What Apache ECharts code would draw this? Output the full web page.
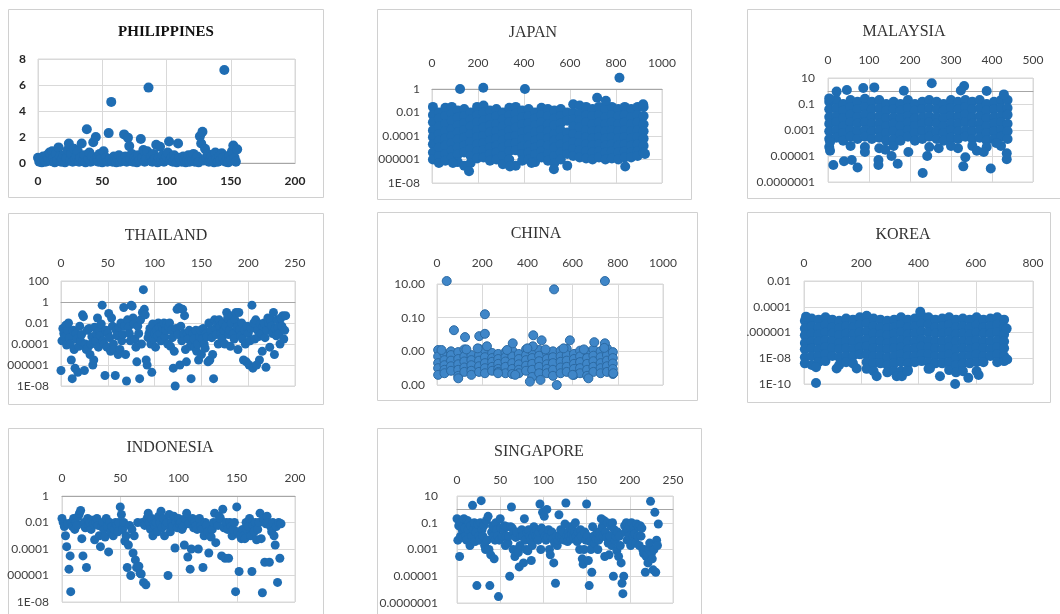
<!DOCTYPE html>
<html>
<head>
<meta charset="utf-8">
<script src="https://cdn.jsdelivr.net/npm/echarts@6.0.0/dist/echarts.min.js"></script>
<style>
  body { margin: 0; background: #fff; }
  .panel { position: absolute; }
</style>
</head>
<body>
<div id="ph" class="panel" style="left:0;top:0;width:340px;height:205px"></div>
<div id="jp" class="panel" style="left:345px;top:0;width:360px;height:205px"></div>
<div id="my" class="panel" style="left:735px;top:0;width:325px;height:205px"></div>
<div id="th" class="panel" style="left:0;top:205px;width:340px;height:210px"></div>
<div id="ch" class="panel" style="left:345px;top:205px;width:360px;height:210px"></div>
<div id="ko" class="panel" style="left:735px;top:205px;width:325px;height:210px"></div>
<div id="in" class="panel" style="left:0;top:415px;width:340px;height:199px"></div>
<div id="sg" class="panel" style="left:345px;top:415px;width:360px;height:199px"></div>
<script>
// ---- data: [x, y] ----
const phPts = [[0,0.4],[1,0.1],[2,0.3],[3,0.05],[4,0.5],[5,0.2],[6,0.1],[7,0.6],[8,0.3],[9,0.8],[10,0.15],[11,0.9],[12,0.4],[13,0.05],[14,0.7],[15,0.2],[16,1.2],[17,0.5],[18,0.1],[19,0.3],[20,0.6],[21,0.05],[22,0.4],[23,1.0],[24,1.5],[25,0.2],[26,0.7],[27,0.1],[28,1.1],[29,0.3],[30,0.5],[31,0.9],[32,0.1],[33,0.4],[34,1.5],[35,0.2],[36,0.6],[37,0.05],[38,2.6],[39,0.3],[40,0.8],[41,0.1],[42,0.5],[43,1.6],[44,0.2],[45,2.0],[46,0.4],[47,0.1],[48,0.7],[49,0.3],[50,0.05],[51,0.9],[52,0.2],[53,0.4],[54,0.1],[55,2.3],[56,0.3],[57,4.7],[58,0.1],[59,0.5],[60,0.2],[61,0.05],[62,0.3],[63,0.6],[64,0.1],[65,0.4],[66,0.2],[67,2.2],[68,0.5],[69,0.1],[70,1.95],[71,1.3],[72,0.3],[73,0.7],[74,0.1],[75,0.4],[76,0.2],[77,0.05],[78,0.6],[79,0.2],[80,1.85],[81,0.4],[82,1.0],[83,0.1],[84,0.3],[85,0.9],[86,5.8],[87,0.2],[88,0.5],[89,0.1],[90,0.7],[91,0.3],[92,1.4],[93,0.05],[94,0.4],[95,1.25],[96,0.2],[97,0.6],[98,0.1],[99,0.3],[100,0.5],[101,0.8],[102,1.65],[103,0.2],[104,0.4],[105,0.1],[106,0.6],[107,0.3],[108,0.05],[109,1.5],[110,0.4],[111,0.2],[112,0.1],[113,0.5],[114,0.3],[115,0.05],[116,0.2],[117,0.6],[118,0.1],[119,0.4],[120,0.2],[121,0.7],[122,0.1],[123,0.3],[124,0.5],[125,0.05],[126,2.05],[127,1.5],[128,2.4],[129,0.2],[130,1.1],[131,0.4],[132,0.7],[133,0.1],[134,0.3],[135,0.5],[136,0.2],[137,0.05],[138,0.8],[139,0.3],[140,0.1],[141,0.5],[142,0.2],[143,0.75],[144,0.4],[145,7.15],[146,0.1],[147,0.3],[148,0.05],[149,0.6],[150,0.2],[151,0.9],[152,1.35],[153,0.4],[154,0.1],[155,1.05]];

// dense clouds are read column by column: [x, [y, y, ...]]
const jpCols = [
  [4,[3e-2,6e-3,1.5e-3,3e-4,8e-5,2e-5,4e-6,1e-6]],[30,[1e-2,3e-3,6e-4,1.5e-4,4e-5,1e-5,2e-6,5e-7]],
  [58,[2.5e-2,5e-3,1e-3,2.5e-4,6e-5,1.5e-5,3e-6,8e-7]],[86,[3e-2,8e-3,2e-3,4e-4,1e-4,2.5e-5,6e-6,1.5e-6]],
  [112,[1.5e-2,4e-3,8e-4,2e-4,5e-5,1e-5,2.5e-6,6e-7]],[140,[2e-2,5e-3,1.2e-3,3e-4,7e-5,1.5e-5,4e-6,3e-7]],
  [168,[1e-2,2.5e-3,6e-4,1.5e-4,3e-5,8e-6,2e-6,5e-7]],[196,[3e-2,6e-3,1.5e-3,3e-4,8e-5,2e-5,5e-6,1.2e-6]],
  [224,[4e-2,1e-2,2e-3,5e-4,1e-4,2.5e-5,6e-6,1.5e-6]],[252,[1.5e-2,3e-3,8e-4,2e-4,4e-5,1e-5,3e-6,8e-7]],
  [280,[2e-2,5e-3,1e-3,2.5e-4,6e-5,1.5e-5,4e-6,1e-6]],[308,[1e-2,2.5e-3,6e-4,1.5e-4,4e-5,1e-5,2e-6,4e-7]],
  [336,[2.5e-2,6e-3,1.5e-3,3e-4,8e-5,2e-5,5e-6,1e-6]],[364,[3e-2,8e-3,2e-3,5e-4,1e-4,2.5e-5,6e-6,3e-7]],
  [392,[1.5e-2,4e-3,1e-3,2e-4,5e-5,1.2e-5,3e-6,8e-7]],[420,[2e-2,5e-3,1.2e-3,3e-4,7e-5,1.5e-5,4e-6,1e-6]],
  [448,[1e-2,3e-3,8e-4,2e-4,4e-5,1e-5,2.5e-6,6e-7]],[476,[2.5e-2,6e-3,1.5e-3,3e-4,8e-5,2e-5,5e-6,1.5e-6]],
  [504,[2e-2,5e-3,1e-3,2.5e-4,6e-5,1.5e-5,3e-6,8e-7]],[532,[1.5e-2,3e-3,8e-4,1.5e-4,4e-5,1e-5,2e-6,5e-7]],
  [560,[2e-2,5e-3,1.2e-3,3e-4,7e-5,2e-5,4e-6,1e-6]],[588,[1e-2,2e-3,2e-4,5e-5,1.2e-5,3e-6,3e-7]],
  [614,[5e-2,1e-2,2.5e-3,6e-4,1.5e-4,3e-5,8e-6,2e-6]],[642,[4e-2,8e-3,2e-3,5e-4,1e-4,2.5e-5,6e-6,1.5e-6]],
  [670,[3e-2,6e-3,1.5e-3,3e-4,8e-5,2e-5,5e-6,1.2e-6]],[698,[2e-2,5e-3,1e-3,2.5e-4,6e-5,1.5e-5,4e-6,1e-6]],
  [726,[3e-2,6e-3,1.5e-3,3e-4,8e-5,2e-5,5e-6,1.5e-6]],[754,[2e-2,4e-3,1e-3,2.5e-4,6e-5,1.5e-5,4e-6,1e-6]],
  [782,[3e-2,6e-3,1.5e-3,3e-4,8e-5,2e-5,5e-6,1.2e-6]],[810,[2e-2,5e-3,1e-3,2.5e-4,6e-5,1.5e-5,4e-6,1e-6]],
  [838,[3e-2,6e-3,1.5e-3,3e-4,8e-5,2e-5,5e-6,1.5e-6]],[866,[2e-2,4e-3,1e-3,2.5e-4,6e-5,1.5e-5,4e-6,1.5e-6]],
  [894,[3e-2,6e-3,1.5e-3,3e-4,8e-5,2e-5,5e-6,2e-6]],[920,[3e-2,5e-3,1e-3,2.5e-4,6e-5,1.5e-5,4e-6]]
];
const jpOut = [[122,1],[223,1.3],[404,1],[815,9],[718,0.18],[756,0.1],[918,0.05],[840,2.5e-7],[161,1e-7],[530,1.5e-7],[926,3e-6],[91,5e-7],[339,2.5e-7],[433,5e-7]];

const myCols = [
  [3,[1.5e-1,4e-2,1e-2,3e-3,8e-4,2e-4,5e-5]],[20,[2e-1,5e-2,1.2e-2,4e-3,1e-3,2.5e-4]],
  [37,[1e-1,3e-2,8e-3,2e-3,6e-4,1.5e-4]],[55,[2e-1,6e-2,1.5e-2,4e-3,1e-3,3e-4,6e-5]],
  [72,[1.5e-1,4e-2,1e-2,3e-3,8e-4,2e-4]],[90,[2.5e-1,6e-2,1.5e-2,4e-3,1e-3,3e-4,5e-5]],
  [107,[1.5e-1,4e-2,1e-2,3e-3,8e-4,2e-4]],[125,[2e-1,5e-2,1.2e-2,3e-3,1e-3,2.5e-4,4e-5]],
  [142,[1e-1,3e-2,8e-3,2e-3,6e-4,1.5e-4]],[160,[1.5e-1,4e-2,1e-2,3e-3,8e-4,2e-4,6e-5]],
  [177,[1e-1,3e-2,8e-3,2e-3,5e-4,1.5e-4]],[195,[2e-1,5e-2,1.2e-2,4e-3,1e-3,3e-4]],
  [212,[1e-1,3e-2,8e-3,2e-3,6e-4,1.5e-4]],[230,[1.5e-1,4e-2,1e-2,3e-3,8e-4,2e-4]],
  [247,[2e-1,5e-2,1.2e-2,4e-3,1e-3,3e-4,5e-5]],[265,[1.5e-1,4e-2,1e-2,3e-3,8e-4,2e-4]],
  [282,[1e-1,3e-2,8e-3,2e-3,6e-4,1.5e-4]],[300,[2e-1,5e-2,1.2e-2,3e-3,1e-3,2.5e-4]],
  [317,[1.5e-1,4e-2,1e-2,3e-3,8e-4,2e-4,4e-5]],[335,[2e-1,6e-2,1.5e-2,4e-3,1e-3,3e-4]],
  [352,[1.5e-1,4e-2,1e-2,3e-3,8e-4,2e-4,6e-5]],[370,[2e-1,5e-2,1.2e-2,3e-3,1e-3,2.5e-4]],
  [387,[1e-1,3e-2,8e-3,2e-3,6e-4,1.5e-4,5e-5]],[405,[1.5e-1,4e-2,1e-2,3e-3,8e-4,2e-4]],
  [422,[2e-1,5e-2,1.2e-2,4e-3,1e-3,3e-4,6e-5]],[438,[2e-1,5e-2,1.5e-2,3e-3,8e-4,2e-4]]
];
const myOut = [[253,3.9],[332,2.4],[324,1.1],[113,1.9],[86,1.7],[46,1.2],[21,0.9],[3,0.27],[185,1.05],[387,1],[429,0.55],[13,2e-6],[39,4e-6],[58,5e-6],[72,1.3e-6],[123,5e-6],[123,2e-6],[155,1e-5],[170,2.5e-6],[196,2e-5],[231,5e-7],[242,1e-5],[330,1.6e-6],[335,8e-6],[397,1.1e-6],[436,5.6e-6],[436,1.6e-5],[363,2.5e-5],[5,2.5e-5],[5,1.2e-4],[90,2e-5],[140,3e-5],[270,4e-5],[300,6e-5],[380,2e-5],[410,1e-4]];

const thPts = [[0,3e-7],[1,2e-4],[2,3e-3],[3,1e-3],[4,5e-4],[5,6e-3],[6,8e-5],[7,2e-3],[8,1e-2],[9,4e-4],[10,1e-4],[11,3e-6],[12,5e-8],[13,2e-3],[14,3e-5],[15,5e-7],[16,1e-3],[17,3e-4],[18,2e-7],[19,6e-5],[20,5e-3],[21,2e-4],[22,8e-4],[23,6e-2],[24,4e-2],[25,3e-7],[26,1e-4],[27,3e-5],[28,2e-3],[29,5e-5],[30,3e-3],[31,1e-5],[32,1e-4],[33,5e-4],[34,1e-6],[35,3e-6],[36,4e-3],[37,2e-4],[38,1e-3],[39,3e-2],[40,5e-5],[41,2e-3],[42,6e-4],[43,8e-3],[44,5e-1],[45,2e-4],[46,1e-4],[47,1e-7],[48,2e-3],[49,5e-5],[50,1e-3],[51,8e-2],[52,4e-4],[53,2e-5],[54,3e-2],[55,5e-3],[56,1e-4],[57,3e-5],[58,1e-7],[59,2e-3],[60,6e-4],[61,1e-5],[62,4e-3],[63,3e-5],[64,1e-2],[65,2e-4],[66,8e-4],[67,3e-1],[68,5e-3],[69,1e-5],[70,3e-8],[71,2e-2],[72,4e-3],[73,1e-3],[74,2e-4],[75,5e-1],[76,4e-1],[77,3e-2],[78,8e-3],[79,3e-4],[80,5e-5],[81,2e-6],[82,5e-3],[83,1e-3],[84,5e-8],[85,2e-2],[86,1e-4],[87,1e-1],[88,15],[89,2e-1],[90,6e-2],[91,3e-6],[92,1e-6],[93,4e-4],[94,1e-3],[95,3e-3],[96,1e-4],[97,2e-7],[98,8e-3],[99,3e-4],[100,1e-3],[101,5e-5],[102,2e-3],[103,6e-4],[104,1e-2],[105,4e-3],[106,1e-3],[107,2e-4],[108,6e-3],[109,3e-3],[110,1e-2],[111,5e-4],[112,2e-3],[113,8e-3],[114,1e-4],[115,4e-3],[116,1e-2],[117,6e-5],[118,2e-3],[119,4e-4],[120,5e-7],[121,2e-5],[122,1e-8],[123,3e-3],[124,2e-1],[125,8e-4],[126,3e-1],[127,1e-6],[128,5e-3],[129,2e-4],[130,2e-1],[131,1e-3],[132,5e-2],[133,3e-5],[134,2e-6],[135,1e-3],[136,3e-4],[137,2e-3],[138,6e-5],[139,5e-8],[140,1e-4],[141,1e-3],[142,3e-4],[143,5e-5],[144,2e-3],[145,2e-5],[146,1e-4],[147,3e-6],[148,5e-4],[149,2e-3],[150,1e-5],[151,3e-4],[152,3e-3],[153,1e-4],[154,4e-5],[155,1e-3],[156,5e-4],[157,2e-6],[158,1e-2],[159,3e-6],[160,2e-3],[161,4e-4],[162,1e-5],[163,5e-8],[164,2e-2],[165,3e-3],[166,8e-4],[167,1e-2],[168,1e-4],[169,2e-2],[170,5e-3],[171,1e-3],[172,3e-4],[173,1e-2],[174,2e-3],[175,1e-4],[176,5e-3],[177,1e-1],[178,3e-2],[179,8e-4],[180,2e-3],[181,6e-5],[182,1e-2],[183,5e-2],[184,1e-3],[185,3e-4],[186,2e-2],[187,1e-1],[188,4e-3],[189,3e-5],[190,1e-1],[191,2e-3],[192,6e-4],[193,1e-2],[194,3e-4],[195,3e-6],[196,2e-3],[197,1e-4],[198,2e-6],[199,5e-3],[200,1e-3],[201,1e-6],[202,2e-4],[203,3e-3],[204,5e-1],[205,5e-7],[206,1e-2],[207,3e-4],[208,2e-2],[209,1e-6],[210,2e-3],[211,5e-4],[212,3e-6],[213,8e-3],[214,1e-3],[215,2e-5],[216,5e-3],[217,1e-2],[218,4e-4],[219,6e-7],[220,2e-3],[221,3e-2],[222,1e-2],[223,5e-5],[224,2e-2],[225,5e-3],[226,1e-3],[227,1e-1],[228,1e-5],[229,3e-3],[230,6e-4],[231,2e-2],[232,4e-3],[233,1e-3],[234,1e-4],[235,3e-2],[236,5e-3],[237,5e-2],[238,3e-4],[239,2e-3],[240,5e-2]];

const chCols = [
  [5,[1.2e-3,5e-4,2e-4,1e-4,4e-5]],[33,[7e-4,3e-4,1.5e-4,8e-5,5e-5]],[62,[1e-3,6e-4,2.8e-4,1.3e-4,7e-5]],
  [94,[9e-4,3.5e-4,1.7e-4,8e-5,3.5e-5]],[121,[1.3e-3,5e-4,2.5e-4,1.1e-4,6e-5]],[152,[6e-4,3e-4,1.5e-4,7e-5,4e-5]],
  [186,[1.4e-3,6e-4,2.8e-4,1.3e-4,6e-5]],[212,[1.2e-3,4.5e-4,2e-4,1e-4,5e-5]],[244,[8e-4,4e-4,2.4e-4,1.2e-4,7e-5]],
  [271,[7e-4,3.5e-4,1.8e-4,9e-5,6e-5]],[303,[9e-4,4.5e-4,2.5e-4,1.2e-4,5e-5]],[333,[1.1e-3,5e-4,2e-4,9e-5,4.5e-5]],
  [362,[7e-4,3.5e-4,1.7e-4,8e-5,5e-5]],[394,[1.3e-3,6e-4,3e-4,1.4e-4,7e-5]],[421,[1e-3,4e-4,1.8e-4,8e-5,3e-5]],
  [452,[1.2e-3,5.5e-4,2.6e-4,1.2e-4,5e-5]],[486,[8e-4,3.5e-4,1.7e-4,9e-5,5e-5]],[513,[1e-3,4.5e-4,2e-4,8e-5,3.5e-5]],
  [547,[1.1e-3,5e-4,2.4e-4,1.1e-4,5e-5]],[574,[1.4e-3,6e-4,2.8e-4,1.2e-4,6e-5]],[606,[7e-4,3.5e-4,1.8e-4,9e-5,4e-5]],
  [633,[1.1e-3,5e-4,2.3e-4,1e-4,5e-5]],[664,[9e-4,4e-4,1.8e-4,8e-5,3.5e-5]],[692,[1.3e-3,5.5e-4,2.6e-4,1.2e-4,6e-5]],
  [724,[1e-3,4.5e-4,2e-4,1e-4,5e-5]],[752,[1.5e-3,6e-4,2.8e-4,1.3e-4,6e-5]],[778,[9e-4,4e-4,1.9e-4,9e-5,4.5e-5]]
];
const chOut = [[43,15],[743,15],[518,4.8],[212,0.16],[75,0.018],[124,7e-3],[187,8e-3],[212,1.1e-2],[426,9e-3],[463,4.5e-3],[335,3e-3],[588,4.5e-3],[696,3.5e-3],[743,3e-3],[424,2e-3],[221,2e-3],[180,1.5e-3],[400,1.5e-3],[560,1.5e-3],[650,1.3e-3],[740,1.6e-3],[94,2.5e-5],[411,1.6e-5],[458,2e-5],[530,1e-5],[670,2.5e-5],[780,5e-5],[346,4e-5],[270,5e-5],[600,4e-5],[130,1.3e-3],[20,1.2e-3],[310,1.2e-3],[480,1.3e-3]];

const koCols = [
  [3,[8e-6,2e-6,6e-7,1.5e-7,5e-8,1.2e-8,4e-9]],[27,[1.2e-5,3e-6,8e-7,2e-7,6e-8,1.5e-8,3e-9]],
  [51,[1e-5,2.5e-6,7e-7,2e-7,5e-8,1.5e-8,5e-9]],[75,[1.5e-5,4e-6,1e-6,2.5e-7,7e-8,2e-8,6e-9]],
  [99,[1e-5,2.5e-6,8e-7,2e-7,6e-8,1.5e-8]],[123,[8e-6,2e-6,6e-7,1.5e-7,5e-8,1.2e-8,3e-9]],
  [147,[1.2e-5,3e-6,8e-7,2e-7,6e-8,1.5e-8,5e-9]],[171,[1e-5,2.5e-6,7e-7,2e-7,5e-8,1.5e-8,4e-9]],
  [195,[1.5e-5,4e-6,1e-6,2.5e-7,7e-8,2e-8]],[219,[2e-5,5e-6,1.2e-6,3e-7,8e-8,2e-8,5e-9,1.5e-9]],
  [243,[1.2e-5,3e-6,8e-7,2e-7,6e-8,1.5e-8,4e-9,1e-9]],[267,[1e-5,2.5e-6,7e-7,2e-7,5e-8,1.5e-8,4e-9]],
  [291,[8e-6,2e-6,6e-7,1.5e-7,5e-8,1.2e-8,3e-9,8e-10]],[315,[1e-5,2.5e-6,8e-7,2e-7,6e-8,1.5e-8,4e-9,1e-9]],
  [339,[1.5e-5,4e-6,1e-6,2.5e-7,7e-8,2e-8,5e-9,1e-9]],[363,[1e-5,2.5e-6,7e-7,2e-7,5e-8,1.5e-8,4e-9,1.2e-9]],
  [387,[1.2e-5,3e-6,8e-7,2e-7,6e-8,1.5e-8,5e-9]],[411,[2e-5,5e-6,1.2e-6,3e-7,8e-8,2e-8,6e-9]],
  [435,[1.5e-5,4e-6,1e-6,2.5e-7,7e-8,2e-8,5e-9,1.5e-9]],[459,[1e-5,2.5e-6,8e-7,2e-7,6e-8,1.5e-8,4e-9]],
  [483,[1.2e-5,3e-6,8e-7,2e-7,5e-8,1.5e-8,4e-9]],[507,[1.5e-5,4e-6,1e-6,2.5e-7,7e-8,2e-8,5e-9,1.2e-9]],
  [531,[1e-5,2.5e-6,7e-7,2e-7,5e-8,1.2e-8,3e-9,8e-10]],[555,[1.2e-5,3e-6,8e-7,2e-7,6e-8,1.5e-8,4e-9,1e-9]],
  [579,[1e-5,2.5e-6,7e-7,2e-7,5e-8,1.5e-8,4e-9]],[603,[1.5e-5,4e-6,1e-6,2.5e-7,7e-8,2e-8,5e-9,1e-9]],
  [627,[1e-5,2.5e-6,8e-7,2e-7,6e-8,1.5e-8,5e-9]],[651,[1.2e-5,3e-6,8e-7,2e-7,5e-8,1.5e-8]],
  [675,[1.5e-5,4e-6,1e-6,2.5e-7,7e-8,2e-8,5e-9]],[699,[1e-5,2.5e-6,7e-7,2e-7,6e-8,1.5e-8,6e-9]]
];
const koOut = [[7,1.7e-5],[406,4e-5],[42,1.2e-10],[528,1e-10],[475,4e-10],[574,3e-10],[610,5e-10],[254,4e-10],[324,4e-10],[342,4e-10],[362,1e-9],[440,1.6e-9],[184,1.6e-9],[114,1.6e-9],[42,2e-9],[710,8e-9],[708,2e-6]];

const inPts = [[0,2e-2],[1,1e-2],[2,5e-3],[3,1e-3],[4,1.5e-4],[5,8e-3],[6,3e-6],[7,3e-5],[7.5,6e-8],[8,1e-2],[9,5e-3],[10,2e-2],[11,3e-3],[12,1e-2],[13,6e-3],[14,3e-2],[15,5e-2],[16,8e-2],[17,6e-4],[18,3e-5],[19,1e-2],[20,4e-3],[21,4e-6],[22,2e-2],[23,6e-3],[24,1e-2],[25,3e-3],[26,1.5e-2],[27,8e-3],[28,5e-4],[29,1e-2],[30,2e-2],[31,6e-3],[32,1e-3],[33,1.5e-4],[34,5e-3],[35,1e-2],[36,3e-3],[37,8e-4],[38,2e-2],[39,5e-3],[40,6e-5],[41,1e-2],[42,2e-3],[43,5e-3],[44,1e-3],[45,3e-3],[46,1e-2],[47,6e-3],[48,2e-3],[49,1e-2],[50,1.5e-1],[51,4e-2],[52,3e-3],[53,1e-2],[54,4e-4],[55,1e-3],[56,4e-6],[57,2e-4],[58,6e-3],[59,1e-6],[60,3e-3],[61,5e-5],[62,1e-3],[63,1.5e-5],[64,4e-6],[65,1e-2],[66,5e-6],[67,1.5e-6],[68,1.3e-6],[69,1e-2],[70,3e-7],[71,6e-3],[72,2e-7],[73,2e-2],[74,5e-2],[75,1e-2],[76,3e-3],[77,2e-2],[78,1e-3],[79,8e-3],[80,5e-3],[81,1e-2],[82,2e-3],[83,3e-2],[84,1e-2],[85,7e-2],[86,4e-3],[87,2e-2],[88,1e-3],[89,6e-3],[90,1e-2],[91,1e-6],[92,4e-2],[93,2e-3],[94,1e-2],[95,5e-3],[96,3e-2],[97,1.2e-4],[98,1e-2],[99,4e-3],[100,2e-2],[101,8e-3],[102,1e-2],[103,3e-3],[104,5e-3],[105,2e-4],[106,2e-2],[107,5e-2],[108,2.5e-5],[109,8e-3],[110,3e-6],[111,1e-4],[112,2e-2],[113,4e-3],[114,1e-2],[115,6e-3],[116,3e-3],[117,1e-4],[118,2e-2],[119,5e-3],[120,3e-3],[121,4e-6],[122,1e-3],[123,1e-2],[124,6e-3],[125,2e-3],[126,5e-5],[127,1e-3],[128,8e-4],[129,3e-3],[130,1e-2],[131,5e-2],[132,3e-4],[133,1e-2],[134,6e-3],[135,3e-2],[136,2e-2],[137,3e-5],[138,1e-1],[139,4e-3],[140,2e-5],[141,1e-2],[142,3e-3],[143,2e-5],[144,1e-2],[145,5e-3],[146,1e-3],[147,3e-3],[148,1e-2],[149,6e-8],[150,1.5e-1],[151,2e-3],[152,2e-6],[153,1e-3],[154,6e-4],[155,3e-3],[156,1e-3],[157,6e-4],[158,1e-2],[159,3e-3],[160,5e-3],[161,2e-2],[162,1e-3],[163,2e-6],[164,6e-3],[165,2e-3],[166,1e-2],[167,5e-4],[168,3e-3],[169,1e-2],[170,5e-2],[171,6e-4],[172,5e-8],[173,2e-2],[174,1e-5],[175,8e-3],[176,3e-2],[177,1e-2],[178,1e-5],[179,5e-3],[180,2e-3],[181,1e-2],[182,1e-3],[183,2e-4],[184,5e-3],[185,3e-7],[186,1e-2],[187,2e-5],[188,8e-3]];

const sgPts = [[0,2e-1],[1,5e-3],[2,6e-2],[3,3e-4],[4,1e-2],[5,1e-1],[6,3e-2],[7,8e-3],[8,2e-1],[9,4e-2],[10,1e-2],[11,5e-3],[12,1.5e-1],[13,3e-2],[14,1e-1],[15,2e-3],[16,6e-2],[17,1e-2],[18,2],[19,3e-2],[20,1e-1],[21,4e-3],[22,2e-2],[23,2e-6],[24,8e-2],[25,1e-2],[26,5e-3],[27,1e-1],[28,4.5],[29,3e-2],[30,1e-2],[31,6e-2],[32,2e-3],[33,1e-3],[34,1.5e-1],[35,5e-3],[36,3e-1],[37,1e-3],[38,2e-6],[39,4e-4],[40,2e-2],[41,6e-2],[42,1e-2],[43,2e-4],[44,5e-3],[45,1e-1],[46,3e-2],[47,1e-2],[48,3e-7],[49,5e-3],[50,2e-1],[51,4e-2],[52,8e-3],[53,1e-2],[54,3e-2],[55,6e-2],[56,2e-3],[57,1e-2],[58,5e-2],[59,3e-3],[60,1e-2],[61,1e-5],[62,5e-2],[63,1.5],[64,4e-2],[65,1e-3],[66,2e-2],[67,3e-4],[68,8e-3],[69,2e-2],[70,1e-3],[71,6e-4],[72,5e-5],[73,2e-3],[74,1e-2],[75,3e-2],[76,1e-2],[77,1e-4],[78,2e-1],[79,5e-3],[80,1e-3],[81,2e-2],[82,8e-4],[83,3e-2],[84,1e-2],[85,5e-3],[86,1.5e-4],[87,2e-3],[88,1e-2],[89,5e-2],[90,2e-2],[91,1e-2],[92,3e-2],[93,8e-3],[94,5e-3],[95,2e-2],[96,2.5],[97,1e-3],[98,4e-2],[99,6e-1],[100,2e-2],[101,3e-1],[102,1e-2],[103,5e-3],[104,1],[105,8e-3],[106,3e-2],[107,1e-3],[108,4e-4],[109,1e-2],[110,2e-2],[111,6e-3],[112,1e-4],[113,3e-3],[114,3e-6],[115,1e-2],[116,2e-3],[117,5e-3],[118,4e-1],[119,1e-2],[120,3e-2],[121,6e-3],[122,1e-2],[123,2e-2],[124,5e-3],[125,8e-2],[126,3],[127,1e-2],[128,4e-3],[129,2e-2],[130,1e-2],[131,5e-2],[132,6e-3],[133,1.5e-2],[134,3e-2],[135,8e-3],[136,2e-2],[137,1e-1],[138,1e-2],[139,4e-3],[140,2e-2],[141,6e-3],[142,1e-3],[143,3e-2],[144,1e-2],[145,2e-4],[146,8e-5],[147,1e-3],[148,2e-2],[149,5e-3],[150,2.5],[151,1e-2],[152,1.5e-4],[153,2e-6],[154,4e-3],[155,1e-3],[156,2e-5],[157,5e-2],[158,1e-2],[159,3e-3],[160,1e-2],[161,6e-3],[162,2e-2],[163,1e-3],[164,5e-3],[165,2e-2],[166,1e-2],[167,2e-1],[168,5e-2],[169,1e-2],[170,1.5e-1],[171,3e-4],[172,2e-2],[173,8e-3],[174,1e-1],[175,3e-3],[176,4e-4],[177,1e-2],[178,6e-2],[179,2e-3],[180,1e-1],[181,1e-5],[182,3e-2],[183,5e-3],[184,1e-2],[185,8e-4],[186,2e-2],[187,3e-4],[188,1e-2],[189,2e-3],[190,1e-4],[191,3e-6],[192,5e-7],[193,1e-5],[194,6e-2],[195,2e-2],[196,1e-1],[197,5e-3],[198,3e-2],[199,1e-2],[200,6e-2],[201,2e-3],[202,1e-1],[203,3e-3],[204,1e-2],[205,5e-2],[206,1.5e-2],[207,3e-3],[208,8e-2],[209,1e-2],[210,5e-2],[211,2e-3],[212,6e-2],[213,1e-2],[214,4e-2],[215,1e-3],[216,5e-4],[217,1e-3],[218,2e-5],[219,3e-4],[220,5e-4],[221,1e-4],[222,1e-3],[223,3e-3],[224,4],[225,5e-4],[226,2e-4],[227,3e-5],[228,1e-3],[229,6e-1],[230,2e-5],[231,5e-3],[232,2e-3],[233,8e-2]];

// tick labels as printed on the log axes (bottom to top)
const jpTicks = ["1E-08", "000001", "0.0001", "0.01", "1"];
const myTicks = ["0.0000001", "0.00001", "0.001", "0.1", "10"];
const thTicks = ["1E-08", "000001", "0.0001", "0.01", "1", "100"];
const chTicks = ["0.00", "0.00", "0.10", "10.00"];
const koTicks = ["1E-10", "1E-08", ".000001", "0.0001", "0.01"];
const inTicks = ["1E-08", "000001", "0.0001", "0.01", "1"];
const sgTicks = ["0.0000001", "0.00001", "0.001", "0.1", "10"];

const GRID = "#d9d9d9",
  AXIS = "#a6a6a6",
  LABEL = "#404040",
  DOT = "#1f6db3";

const flatCols = (cols) => cols.flatMap(([x, ys]) => ys.map((y) => [x, y]));
const toLog = (pts) => pts.map(([x, y]) => [x, Math.log10(y)]);

function drawPanel(id, p) {
  const bold = p.bold ? "bold" : "normal";
  const labelStyle = {
    color: p.bold ? "#262626" : LABEL,
    fontFamily: "Lato",
    fontSize: 12,
    fontWeight: bold,
  };
  let yLabel = (v) => String(v);
  if (p.yTicks) {
    yLabel = (v) => p.yTicks[Math.round((v - p.yMin) / 2)];
  }
  echarts.init(document.getElementById(id)).setOption({
    animation: false,
    graphic: [
      {
        type: "rect",
        silent: true,
        shape: { x: p.box[0] + 0.5, y: p.box[1] + 0.5, width: p.box[2], height: p.box[3] },
        style: { fill: "none", stroke: "#d0d0d0", lineWidth: 1 },
      },
      {
        type: "text",
        silent: true,
        x: p.titleX,
        y: p.titleY,
        style: {
          text: p.title,
          fontFamily: "Liberation Serif",
          fontSize: p.bold ? 15 : 16,
          fontWeight: bold,
          fill: p.bold ? "#111" : "#333",
          align: "center",
          verticalAlign: "middle",
        },
      },
    ],
    grid: {
      left: p.grid[0],
      top: p.grid[1],
      width: p.grid[2],
      height: p.grid[3],
      show: true,
      borderColor: GRID,
      borderWidth: 1,
    },
    xAxis: {
      type: "value",
      min: 0,
      max: p.xMax,
      interval: p.xStep,
      position: p.xPos,
      axisLine: { show: p.onZero, onZero: p.onZero, lineStyle: { color: AXIS } },
      axisTick: { show: false },
      axisLabel: Object.assign({ margin: p.xMargin, formatter: (v) => String(v) }, labelStyle),
      splitLine: { lineStyle: { color: GRID } },
    },
    yAxis: {
      type: "value",
      min: p.yMin,
      max: p.yMax,
      interval: 2,
      axisLine: { show: false },
      axisTick: { show: false },
      axisLabel: Object.assign({ margin: p.yMargin, formatter: yLabel }, labelStyle),
      splitLine: { lineStyle: { color: GRID } },
    },
    series: [
      {
        type: "scatter",
        data: p.data,
        symbolSize: p.size || 9,
        clip: false,
        itemStyle: p.itemStyle || { color: DOT, opacity: 1 },
      },
    ],
  });
}

drawPanel("ph", {
  title: "PHILIPPINES", bold: true, titleX: 166, titleY: 32,
  box: [8, 9, 315, 188], grid: [38, 59, 257, 104],
  xMax: 200, xStep: 50, xPos: "bottom", onZero: true, xMargin: 12,
  yMin: 0, yMax: 8, yMargin: 12, size: 10,
  data: phPts,
});
drawPanel("jp", {
  title: "JAPAN", titleX: 188, titleY: 33,
  box: [32, 9, 314, 190], grid: [87, 89, 230, 94],
  xMax: 1000, xStep: 200, xPos: "top", onZero: true, xMargin: 20,
  yMin: -8, yMax: 0, yTicks: jpTicks, yMargin: 12, size: 10,
  data: toLog(flatCols(jpCols).concat(jpOut)),
});
drawPanel("my", {
  title: "MALAYSIA", titleX: 169, titleY: 32,
  box: [12, 9, 320, 189], grid: [93, 78, 205, 104],
  xMax: 500, xStep: 100, xPos: "top", onZero: true, xMargin: 12,
  yMin: -7, yMax: 1, yTicks: myTicks, yMargin: 13, size: 10,
  data: toLog(flatCols(myCols).concat(myOut)),
});
drawPanel("th", {
  title: "THAILAND", titleX: 166, titleY: 31,
  box: [8, 8, 315, 191], grid: [61, 76, 234, 105],
  xMax: 250, xStep: 50, xPos: "top", onZero: true, xMargin: 12,
  yMin: -8, yMax: 2, yTicks: thTicks, yMargin: 12,
  data: toLog(thPts),
});
drawPanel("ch", {
  title: "CHINA", titleX: 191, titleY: 29,
  box: [32, 7, 320, 188], grid: [92, 79, 226, 101],
  xMax: 1000, xStep: 200, xPos: "top", onZero: false, xMargin: 15,
  yMin: -5, yMax: 1, yTicks: chTicks, yMargin: 12,
  itemStyle: { color: "#3f86c8", borderColor: "#2c6aa3", borderWidth: 1, opacity: 1 },
  data: toLog(flatCols(chCols).concat(chOut)),
});
drawPanel("ko", {
  title: "KOREA", titleX: 168, titleY: 30,
  box: [12, 7, 303, 190], grid: [69, 76, 229, 103],
  xMax: 800, xStep: 200, xPos: "top", onZero: false, xMargin: 12,
  yMin: -10, yMax: -2, yTicks: koTicks, yMargin: 13, size: 10,
  data: toLog(flatCols(koCols).concat(koOut)),
});
drawPanel("in", {
  title: "INDONESIA", titleX: 170, titleY: 33,
  box: [8, 13, 315, 190], grid: [62, 81, 233, 106],
  xMax: 200, xStep: 50, xPos: "top", onZero: true, xMargin: 12,
  yMin: -8, yMax: 0, yTicks: inTicks, yMargin: 13,
  data: toLog(inPts),
});
drawPanel("sg", {
  title: "SINGAPORE", titleX: 194, titleY: 37,
  box: [32, 13, 324, 190], grid: [112, 81, 216, 107],
  xMax: 250, xStep: 50, xPos: "top", onZero: true, xMargin: 10,
  yMin: -7, yMax: 1, yTicks: sgTicks, yMargin: 19,
  data: toLog(sgPts),
});
</script>
</body>
</html>
